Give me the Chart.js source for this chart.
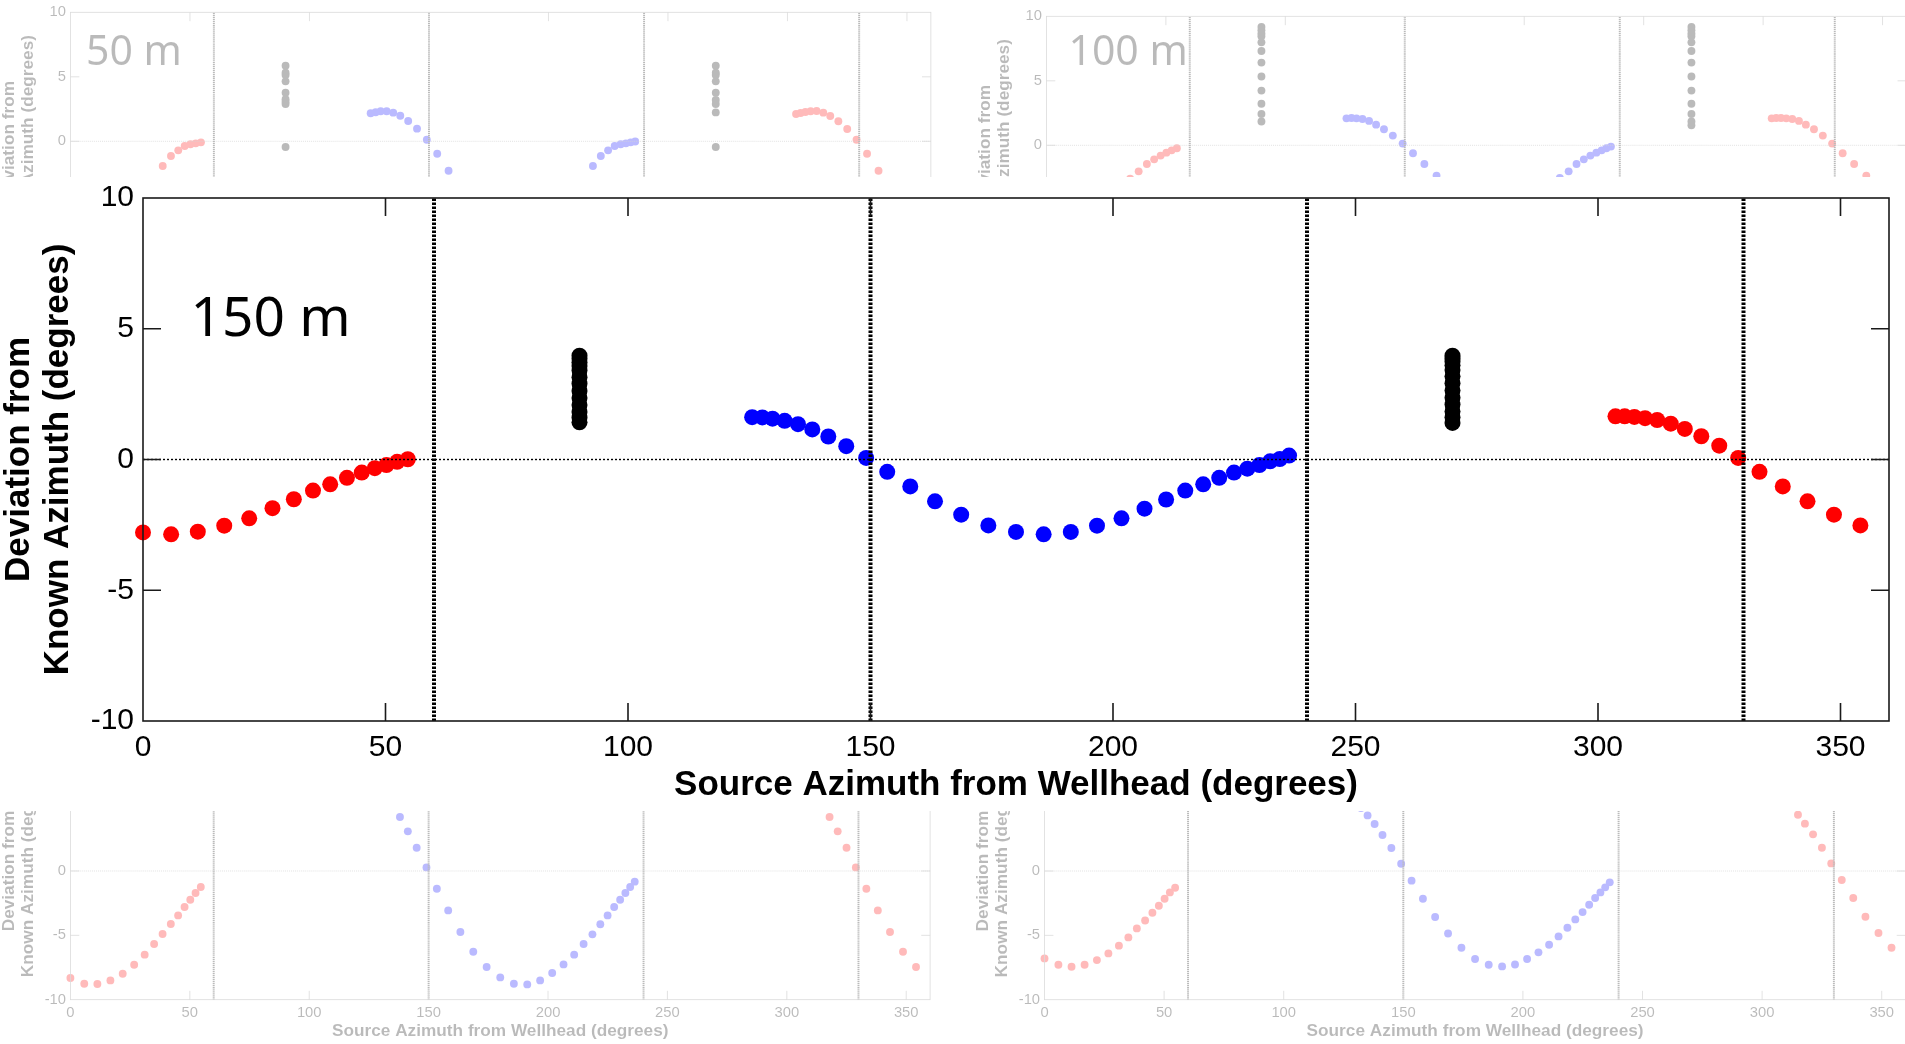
<!DOCTYPE html>
<html>
<head>
<meta charset="utf-8">
<title>Azimuth deviation by source range</title>
<script src="https://cdn.jsdelivr.net/npm/chart.js@4.4.0/dist/chart.umd.min.js"></script>
<style>
  html, body { margin: 0; padding: 0; background: #ffffff; }
  body { position: relative; width: 1905px; height: 1044px; overflow: hidden; }
  .clip { position: absolute; overflow: hidden; }
  .faded { opacity: 0.27; }
  canvas { position: absolute; }
</style>
</head>
<body>
<script>
// ---- axis ranges and labels ----
const azRange = [0, 360];
const devRange = [-10, 10];
const azStep = 50;
const devStep = 5;
const sectorBounds = [60, 150, 240, 330];
const xTitle = 'Source Azimuth from Wellhead (degrees)';
const yTitle = ['Deviation from', 'Known Azimuth (degrees)'];

// ---- source azimuths (degrees) of each group of shots ----
const redLeftAz  = [0, 5.8, 11.3, 16.75, 21.9, 26.7, 31.1, 35.05, 38.6, 42.05, 45.1, 47.8, 50.2, 52.4, 54.6];
const blueAz     = [125.6, 127.7, 129.8, 132.3, 135.05, 138.0, 141.3, 145.0, 149.1, 153.45, 158.2, 163.3, 168.7, 174.3, 180.0,
                    185.7, 191.3, 196.7, 201.75, 206.5, 210.95, 214.9, 218.6, 221.9, 224.95, 227.7, 230.2, 232.4, 234.4, 236.3];
const redRightAz = [303.6, 305.5, 307.5, 309.7, 312.2, 315.0, 317.9, 321.3, 325.0, 328.9, 333.3, 338.1, 343.2, 348.65, 354.1];
const broadsideAz = [90, 270];

// ---- deviation from known azimuth (degrees), 150 m ----
const redLeft150  = [-2.79, -2.86, -2.76, -2.53, -2.25, -1.86, -1.52, -1.19, -0.95, -0.70, -0.50, -0.33, -0.21, -0.09, 0.01];
const blue150     = [1.62, 1.61, 1.56, 1.48, 1.35, 1.15, 0.88, 0.51, 0.06, -0.47, -1.03, -1.60, -2.11, -2.52, -2.77,
                     -2.86, -2.77, -2.53, -2.25, -1.88, -1.53, -1.19, -0.95, -0.70, -0.50, -0.35, -0.21, -0.07, 0.02, 0.15];
const redRight150 = [1.65, 1.65, 1.63, 1.58, 1.51, 1.37, 1.17, 0.89, 0.53, 0.06, -0.47, -1.03, -1.60, -2.11, -2.52];
const side90_150  = [3.97, 3.85, 3.72, 3.58, 3.40, 3.15, 2.90, 2.62, 2.35, 2.08, 1.82, 1.60, 1.42];
const side270_150 = [3.97, 3.86, 3.74, 3.60, 3.42, 3.18, 2.92, 2.64, 2.36, 2.10, 1.84, 1.62, 1.40];

// ---- 50 m ----
const redLeft50  = [null, null, null, null, null, null, null, null, -1.91, -1.14, -0.70, -0.36, -0.23, -0.16, -0.08];
const blue50     = [2.17, 2.25, 2.33, 2.33, 2.22, 1.98, 1.57, 0.98, 0.12, -0.96, -2.28, null, null, null, null,
                    null, null, null, null, null, null, null, -1.91, -1.14, -0.70, -0.36, -0.23, -0.16, -0.08, -0.02];
const redRight50 = [2.12, 2.19, 2.27, 2.33, 2.35, 2.22, 1.96, 1.55, 0.95, 0.12, -0.96, -2.28, null, null, null];
const side90_50  = [5.86, 5.32, 5.14, 4.65, 3.77, 3.26, 3.07, 2.89, -0.44];
const side270_50 = [5.86, 5.32, 5.14, 4.65, 3.77, 3.20, 2.89, 2.24, -0.44];

// ---- 100 m ----
const redLeft100  = [null, null, null, null, null, null, null, -2.58, -2.02, -1.45, -1.09, -0.80, -0.57, -0.39, -0.23];
const blue100     = [2.09, 2.12, 2.09, 2.04, 1.89, 1.60, 1.24, 0.75, 0.13, -0.62, -1.45, -2.35, null, null, null,
                     null, null, null, null, null, null, -2.53, -2.02, -1.45, -1.09, -0.80, -0.57, -0.39, -0.23, -0.10];
const redRight100 = [2.09, 2.12, 2.12, 2.09, 2.04, 1.89, 1.60, 1.24, 0.75, 0.13, -0.62, -1.45, -2.35, null, null];
const side90_100  = [9.17, 8.91, 8.66, 8.45, 7.98, 7.31, 6.41, 5.33, 4.24, 3.22, 2.43, 1.84];
const side270_100 = [9.17, 8.91, 8.66, 8.45, 7.98, 7.31, 6.41, 5.33, 4.24, 3.22, 2.43, 1.84, 1.55];

// ---- lower-left panel ----
const redLeftC  = [-8.31, -8.76, -8.78, -8.50, -7.98, -7.28, -6.50, -5.67, -4.90, -4.12, -3.45, -2.80, -2.23, -1.71, -1.24];
const blueC     = [null, null, null, null, null, 4.20, 3.08, 1.81, 0.28, -1.38, -3.06, -4.74, -6.27, -7.46, -8.27,
                   -8.76, -8.81, -8.50, -7.93, -7.26, -6.50, -5.67, -4.92, -4.14, -3.45, -2.80, -2.23, -1.71, -1.24, -0.83];
const redRightC = [null, null, null, null, null, null, 4.20, 3.08, 1.81, 0.28, -1.38, -3.06, -4.74, -6.27, -7.46];

// ---- lower-right panel ----
const redLeftD  = [-6.79, -7.28, -7.44, -7.28, -6.92, -6.40, -5.80, -5.16, -4.46, -3.84, -3.24, -2.70, -2.15, -1.66, -1.30];
const blueD     = [null, null, null, 4.90, 4.32, 3.65, 2.80, 1.79, 0.57, -0.75, -2.15, -3.57, -4.85, -5.96, -6.84,
                   -7.28, -7.41, -7.26, -6.84, -6.32, -5.73, -5.08, -4.41, -3.76, -3.19, -2.62, -2.10, -1.66, -1.27, -0.88];
const redRightD = [null, null, null, null, null, 4.37, 3.68, 2.85, 1.81, 0.59, -0.70, -2.10, -3.55, -4.82, -5.96];

// ---- helpers ----
const FAMILY = '"Liberation Sans", Arial, Helvetica, sans-serif';
// box sizes around the plot area, for a full-size panel
const M_LEFT = 143, M_TOP = 27, M_RIGHT = 16, M_BOTTOM = 84;

function toPoints(az, dev) {
  const out = [];
  az.forEach((a, i) => {
    if (dev[i] !== null && dev[i] !== undefined) out.push({ x: a, y: dev[i] });
  });
  return out;
}
function toColumn(az, vals) {
  return vals.map(v => ({ x: az, y: v }));
}

// frame, inward tick marks and the range label
const decorPlugin = {
  id: 'panelDecor',
  beforeDatasetsDraw(chart, args, opts) {
    const ctx = chart.ctx;
    const a = chart.chartArea;
    ctx.save();
    if (opts.text) {
      ctx.fillStyle = '#000';
      ctx.font = opts.textSize + 'px "Noto Sans", "Open Sans", sans-serif';
      ctx.textBaseline = 'alphabetic';
      ctx.textAlign = 'left';
      ctx.fillText(opts.text, a.left + opts.textDx, a.top + opts.textDy);
    }
    ctx.restore();
  },
  afterDatasetsDraw(chart, args, opts) {
    const ctx = chart.ctx;
    const a = chart.chartArea;
    const s = opts.scale;
    const xs = chart.scales.x, ys = chart.scales.y;
    const len = 18 * s;
    ctx.save();
    ctx.strokeStyle = opts.frameColor;
    ctx.lineWidth = 1.6 * s;
    ctx.beginPath();
    xs.ticks.forEach(t => {
      if (t.value <= xs.min || t.value >= xs.max) return;
      const px = xs.getPixelForValue(t.value);
      ctx.moveTo(px, a.bottom); ctx.lineTo(px, a.bottom - len);
      ctx.moveTo(px, a.top); ctx.lineTo(px, a.top + len);
    });
    ys.ticks.forEach(t => {
      if (t.value <= ys.min || t.value >= ys.max) return;
      const py = ys.getPixelForValue(t.value);
      ctx.moveTo(a.left, py); ctx.lineTo(a.left + len, py);
      ctx.moveTo(a.right, py); ctx.lineTo(a.right - len, py);
    });
    ctx.stroke();
    ctx.strokeRect(a.left, a.top, a.right - a.left, a.bottom - a.top);
    ctx.restore();
  }
};

function buildPanel(p, parent, originX, originY) {
  const [L, T, R, B] = p.plot;
  const s = (R - L) / 1746;
  const w = Math.ceil(R - L + (M_LEFT + M_RIGHT) * s);
  const h = Math.ceil(B - T + (M_TOP + M_BOTTOM) * s);
  const cv = document.createElement('canvas');
  cv.width = w; cv.height = h;
  cv.style.left = (L - M_LEFT * s - originX) + 'px';
  cv.style.top = (T - M_TOP * s - originY) + 'px';
  parent.appendChild(cv);

  const padRight = w - M_LEFT * s - (R - L);
  const padBottom = h - M_TOP * s - (B - T) - M_BOTTOM * s;

  const dot = (data, color) => ({
    type: 'scatter', data, backgroundColor: color, borderColor: color, borderWidth: 0,
    pointRadius: 8 * s, pointHoverRadius: 8 * s, order: 2, clip: false
  });
  const datasets = [
    dot(toPoints(redLeftAz, p.redLeft), '#ff0000'),
    dot(toPoints(blueAz, p.blue), '#0000ff'),
    dot(toPoints(redRightAz, p.redRight), '#ff0000')
  ];
  if (p.side90) datasets.push(dot(toColumn(broadsideAz[0], p.side90), '#000000'));
  if (p.side270) datasets.push(dot(toColumn(broadsideAz[1], p.side270), '#000000'));

  datasets.push({
    type: 'line', data: [{ x: azRange[0], y: 0 }, { x: azRange[1], y: 0 }],
    borderColor: p.zeroColor, borderWidth: 1.4 * s, borderDash: [2 * s, 2 * s],
    pointRadius: 0, order: 1, clip: false
  });
  sectorBounds.forEach(b => {
    datasets.push({
      type: 'line', data: [{ x: b, y: devRange[0] }, { x: b, y: devRange[1] }],
      borderColor: p.boundColor, borderWidth: 4 * s, borderDash: [2.5 * s, 1.5 * s],
      pointRadius: 0, order: 0, clip: false
    });
  });

  new Chart(cv.getContext('2d'), {
    type: 'scatter',
    data: { datasets },
    options: {
      responsive: false,
      animation: false,
      events: [],
      layout: { padding: { left: 0, top: M_TOP * s, right: padRight, bottom: padBottom } },
      plugins: {
        legend: { display: false },
        tooltip: { enabled: false },
        panelDecor: {
          scale: s, frameColor: p.frameColor,
          text: p.label, textSize: p.labelSize, textDx: p.labelDx, textDy: p.labelDy
        }
      },
      scales: {
        x: {
          type: 'linear', min: azRange[0], max: azRange[1],
          grid: { display: false, drawTicks: false },
          border: { display: false },
          ticks: {
            stepSize: azStep, includeBounds: false, autoSkip: false, maxRotation: 0,
            padding: 9 * s, color: '#000', font: { family: FAMILY, size: 30 * s }
          },
          title: {
            display: true, text: xTitle, color: '#000', padding: 0,
            font: { family: FAMILY, size: 35 * s, weight: 'bold', lineHeight: 1.11 }
          },
          afterFit(sc) { sc.height = M_BOTTOM * s; }
        },
        y: {
          type: 'linear', min: devRange[0], max: devRange[1],
          grid: { display: false, drawTicks: false },
          border: { display: false },
          ticks: {
            stepSize: devStep, autoSkip: false,
            padding: 9 * s, color: '#000', font: { family: FAMILY, size: 30 * s }
          },
          title: {
            display: true, text: yTitle, color: '#000', padding: 0,
            font: { family: FAMILY, size: 35 * s, weight: 'bold', lineHeight: 1.11 }
          },
          afterFit(sc) { sc.width = M_LEFT * s; }
        }
      }
    },
    plugins: [decorPlugin]
  });
}

function makeClip(x, y, w, h, faded) {
  const d = document.createElement('div');
  d.className = 'clip' + (faded ? ' faded' : '');
  d.style.left = x + 'px'; d.style.top = y + 'px';
  d.style.width = w + 'px'; d.style.height = h + 'px';
  document.body.appendChild(d);
  return d;
}

const faint = { frameColor: '#777777', zeroColor: '#666666', boundColor: '#000000' };

// 50 m (upper left)
buildPanel(Object.assign({
  plot: [70.4, 12.3, 930.8, 270.3], label: '50 m', labelSize: 41, labelDx: 15.5, labelDy: 52.7,
  redLeft: redLeft50, blue: blue50, redRight: redRight50, side90: side90_50, side270: side270_50
}, faint), makeClip(0, 0, 950, 177, true), 0, 0);

// 100 m (upper right)
buildPanel(Object.assign({
  plot: [1046, 16, 1906, 274], label: '100 m', labelSize: 41, labelDx: 22, labelDy: 49,
  redLeft: redLeft100, blue: blue100, redRight: redRight100, side90: side90_100, side270: side270_100
}, faint), makeClip(950, 0, 955, 177, true), 950, 0);

// lower left
buildPanel(Object.assign({
  plot: [70.4, 742.6, 930.1, 1000], label: null,
  redLeft: redLeftC, blue: blueC, redRight: redRightC
}, faint), makeClip(0, 811, 950, 233, true), 0, 811);

// lower right
buildPanel(Object.assign({
  plot: [1044.8, 742.6, 1905.9, 1000], label: null,
  redLeft: redLeftD, blue: blueD, redRight: redRightD
}, faint), makeClip(950, 811, 955, 233, true), 950, 811);

// 150 m (main panel)
buildPanel({
  plot: [143, 198, 1889, 721], label: '150 m', labelSize: 55, labelDx: 47.5, labelDy: 138,
  frameColor: '#1a1a1a', zeroColor: '#000000', boundColor: '#000000',
  redLeft: redLeft150, blue: blue150, redRight: redRight150, side90: side90_150, side270: side270_150
}, makeClip(0, 171, 1905, 640, false), 0, 171);
</script>
</body>
</html>
